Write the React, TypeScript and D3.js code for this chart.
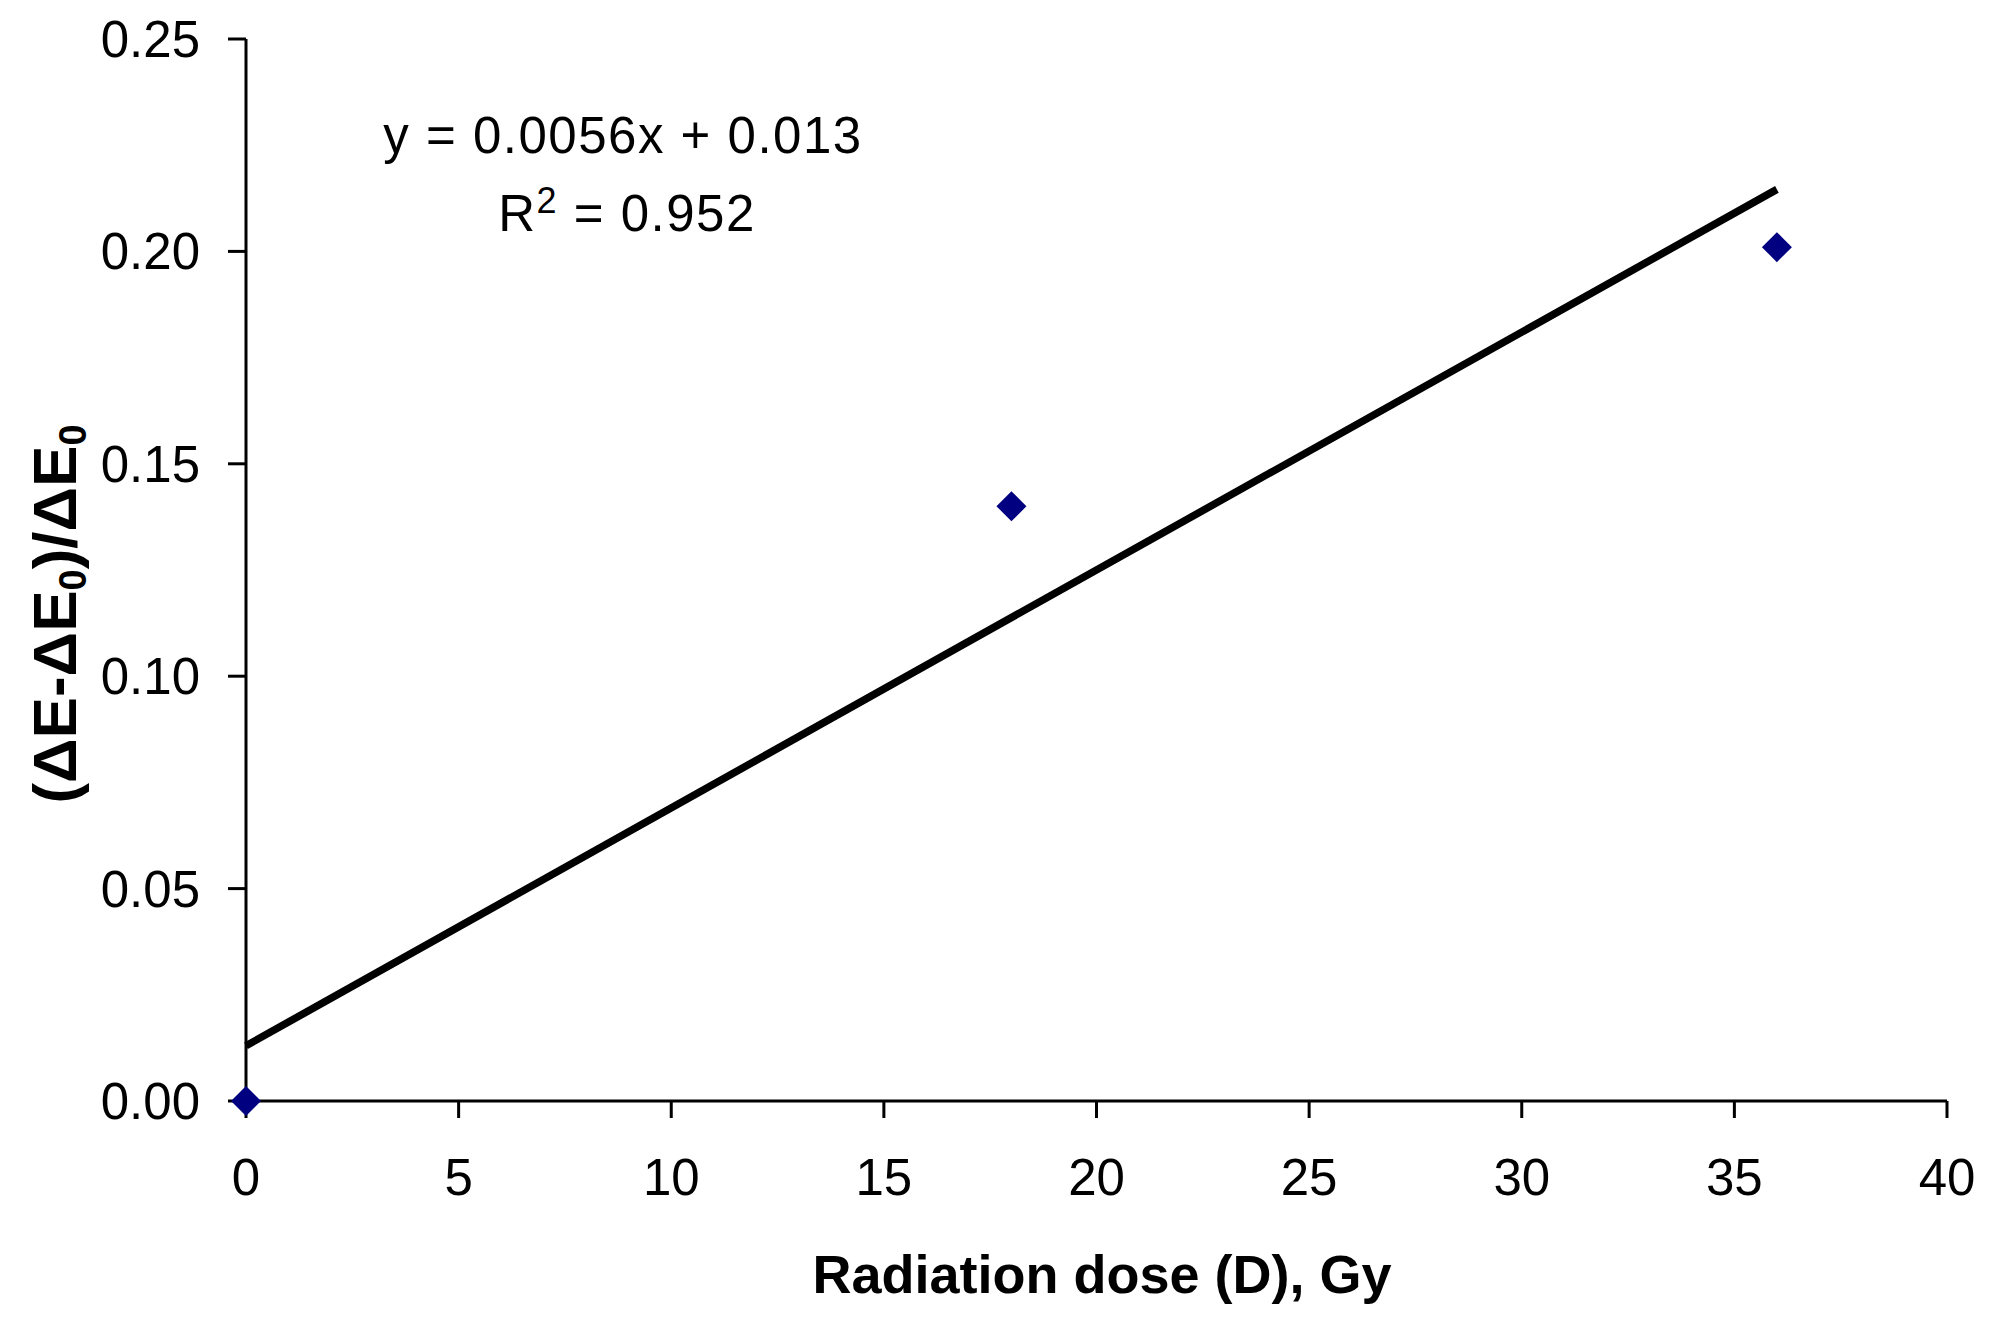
import React, { useEffect } from "react";
import * as d3 from "d3";

const doses = [0, 18, 36];
const ratios = [0, 0.14, 0.201];
const xTicks = [0, 5, 10, 15, 20, 25, 30, 35, 40];
const yTicks = [0, 0.05, 0.1, 0.15, 0.2, 0.25];
const fitSlope = 0.0056;
const fitIntercept = 0.013;
const fitRange = [0, 36];
const equationText = "y = 0.0056x + 0.013";
const r2Text = " = 0.952";
const xTitle = "Radiation dose (D), Gy";

const W = 1994;
const H = 1328;

export default function App() {
  useEffect(() => {
    document.body.style.margin = "0";
  }, []);

  const x = d3.scaleLinear().domain([0, 40]).range([246, 1947]);
  const y = d3.scaleLinear().domain([0, 0.25]).range([1101, 39]);
  const fmtY = d3.format(".2f");

  const trend = d3
    .line<number>()
    .x((d) => x(d))
    .y((d) => y(fitSlope * d + fitIntercept));

  const diamond = d3.symbol().type(d3.symbolSquare).size(450)();

  const font = "'Liberation Sans', Arial, sans-serif";
  const tickFs = 51;

  return (
    <svg
      width={W}
      height={H}
      viewBox={`0 0 ${W} ${H}`}
      style={{ position: "absolute", left: 0, top: 0, background: "#fff" }}
    >
      <rect x={0} y={0} width={W} height={H} fill="#fff" />
      {/* Y axis */}
      <line x1={x(0)} x2={x(0)} y1={y(0.25)} y2={y(0)} stroke="#000" strokeWidth={3} />
      {yTicks.map((t) => (
        <g key={"yt" + t}>
          <line x1={x(0) - 18} x2={x(0)} y1={y(t)} y2={y(t)} stroke="#000" strokeWidth={3} />
          <text
            x={200}
            y={y(t) + 18}
            textAnchor="end"
            fontFamily={font}
            fontSize={tickFs}
            fill="#000"
          >
            {fmtY(t)}
          </text>
        </g>
      ))}
      {/* X axis */}
      <line x1={x(0)} x2={x(40)} y1={y(0)} y2={y(0)} stroke="#000" strokeWidth={3} />
      {xTicks.map((t) => (
        <g key={"xt" + t}>
          <line x1={x(t)} x2={x(t)} y1={y(0)} y2={y(0) + 17} stroke="#000" strokeWidth={3} />
          <text
            x={x(t)}
            y={1195}
            textAnchor="middle"
            fontFamily={font}
            fontSize={tickFs}
            fill="#000"
          >
            {t}
          </text>
        </g>
      ))}
      {/* Trend line */}
      <path d={trend(fitRange) || ""} fill="none" stroke="#000" strokeWidth={7.5} />
      {/* Points */}
      {doses.map((d, i) => (
        <path
          key={"p" + i}
          d={diamond || ""}
          transform={`translate(${x(d)},${y(ratios[i])}) rotate(45)`}
          fill="#000080"
        />
      ))}
      {/* Equation */}
      <text
        x={623}
        y={153}
        textAnchor="middle"
        fontFamily={font}
        fontSize={tickFs}
        letterSpacing={1.5}
        fill="#000"
      >
        {equationText}
      </text>
      <text
        x={627}
        y={231}
        textAnchor="middle"
        fontFamily={font}
        fontSize={tickFs}
        letterSpacing={1.5}
        fill="#000"
      >
        R
        <tspan fontSize={36} dy={-18}>
          2
        </tspan>
        <tspan dy={18}>{r2Text}</tspan>
      </text>
      {/* X title */}
      <text
        x={1102}
        y={1293}
        textAnchor="middle"
        fontFamily={font}
        fontSize={54}
        fontWeight="bold"
        fill="#000"
      >
        {xTitle}
      </text>
      {/* Y title */}
      <text
        transform={`translate(76,614) rotate(-90)`}
        textAnchor="middle"
        fontFamily={font}
        fontSize={62}
        fontWeight="bold"
        fill="#000"
      >
        (ΔE-ΔE
        <tspan fontSize={38} dy={10}>
          0
        </tspan>
        <tspan dy={-10}>)/ΔE</tspan>
        <tspan fontSize={38} dy={10}>
          0
        </tspan>
      </text>
    </svg>
  );
}
